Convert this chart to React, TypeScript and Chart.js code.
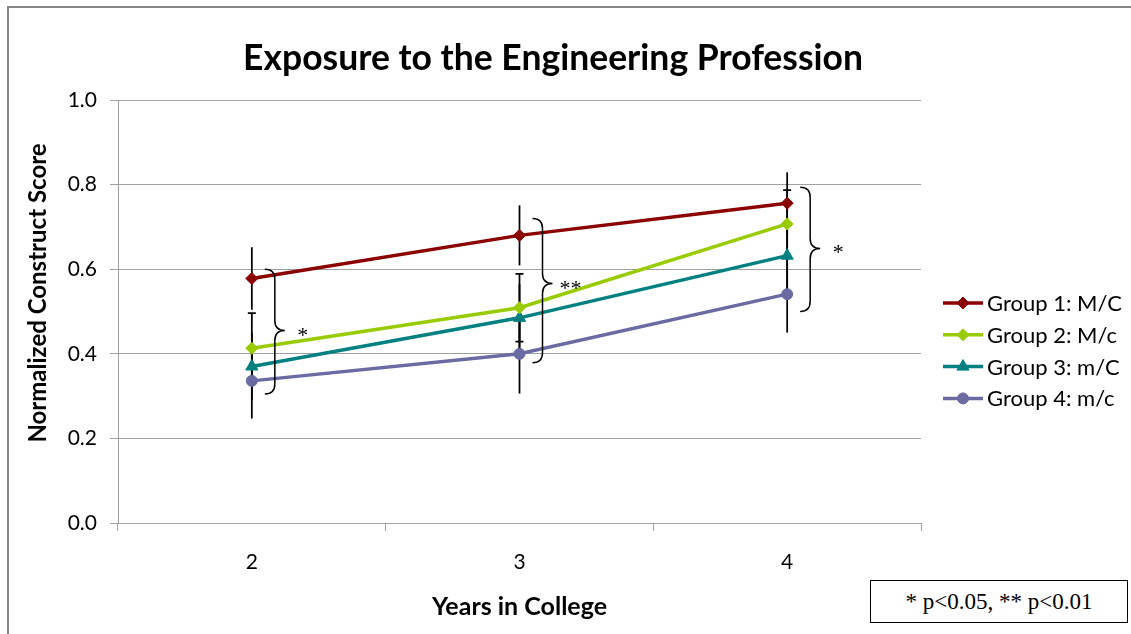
import React, { useEffect, useRef } from "react";
import { Chart, registerables } from "chart.js";
import { drawPoint } from "chart.js/helpers";

Chart.register(...registerables);

// Years in college (x categories)
const years = ["2", "3", "4"];

// Mean normalized construct scores per group
const seriesNames = ["Group 1: M/C", "Group 2: M/c", "Group 3: m/C", "Group 4: m/c"];
const group1 = [0.578, 0.68, 0.756];
const group2 = [0.413, 0.509, 0.707];
const group3 = [0.37, 0.485, 0.632];
const group4 = [0.336, 0.4, 0.541];

// Error bar half-widths per group
const group1Err = [0.074, 0.071, 0.073];
const group2Err = [0.083, 0.08, 0.08];
const group3Err = [0.08, 0.08, 0.08];
const group4Err = [0.089, 0.094, 0.091];

// Y axis tick values
const yTicks = [0, 0.2, 0.4, 0.6, 0.8, 1.0];

// Significance brackets for each year: span and tip (score units) and marker
const bracketTop = [0.6, 0.72, 0.794];
const bracketBottom = [0.305, 0.379, 0.5];
const bracketTip = [0.455, 0.566, 0.649];
const bracketMarks = ["*", "**", "*"];

const TITLE = "Exposure to the Engineering Profession";
const Y_TITLE = "Normalized Construct Score";
const X_TITLE = "Years in College";
const NOTE = "* p<0.05, ** p<0.01";

const FONT = "Lato, 'Open Sans', sans-serif";
const SERIF = "'Liberation Serif', 'Times New Roman', serif";
const GRID = "#a0a0a0";

const errorBarsPlugin = {
  id: "errorBars",
  beforeDatasetsDraw(chart: any) {
    const { ctx, scales } = chart;
    const xs = scales.x;
    const ys = scales.y;
    ctx.save();
    ctx.strokeStyle = "#000";
    ctx.lineWidth = 1.75;
    chart.data.datasets.forEach((ds: any) => {
      ds.errors.forEach((e: number, j: number) => {
        const v = ds.data[j];
        const px = xs.getPixelForValue(j);
        const top = ys.getPixelForValue(v + e);
        const bot = ys.getPixelForValue(v - e);
        ctx.beginPath();
        ctx.moveTo(px, top);
        ctx.lineTo(px, bot);
        if (ds.capped) {
          ctx.moveTo(px - 4, top);
          ctx.lineTo(px + 4, top);
          ctx.moveTo(px - 4, bot);
          ctx.lineTo(px + 4, bot);
        }
        ctx.stroke();
      });
    });
    ctx.restore();
  },
};

const annotationsPlugin = {
  id: "annotations",
  afterDatasetsDraw(chart: any) {
    const { ctx, scales } = chart;
    const xs = scales.x;
    const ys = scales.y;
    ctx.save();
    ctx.strokeStyle = "#000";
    ctx.lineWidth = 1.5;
    years.forEach((_, j) => {
      const px = xs.getPixelForValue(j);
      const x0 = px + 13;
      const xm = x0 + 10;
      const xt = xm + 10;
      const yT = ys.getPixelForValue(bracketTop[j]);
      const yB = ys.getPixelForValue(bracketBottom[j]);
      const yM = ys.getPixelForValue(bracketTip[j]);
      const r = 10;
      ctx.beginPath();
      ctx.moveTo(x0, yT);
      ctx.quadraticCurveTo(xm, yT, xm, yT + r);
      ctx.lineTo(xm, yM - r);
      ctx.quadraticCurveTo(xm, yM, xt, yM);
      ctx.quadraticCurveTo(xm, yM, xm, yM + r);
      ctx.lineTo(xm, yB - r);
      ctx.quadraticCurveTo(xm, yB, x0, yB);
      ctx.stroke();

      ctx.fillStyle = "#000";
      ctx.font = `22px ${SERIF}`;
      ctx.textAlign = "center";
      ctx.textBaseline = "alphabetic";
      ctx.fillText(bracketMarks[j], xt + 18, yM + 11);
    });
    ctx.restore();
  },
  afterDraw(chart: any) {
    const { ctx, chartArea } = chart;
    ctx.save();
    // Chart title
    ctx.fillStyle = "#000";
    ctx.font = `bold 35.5px ${FONT}`;
    ctx.textAlign = "center";
    ctx.textBaseline = "alphabetic";
    ctx.fillText(TITLE, 553, 70);

    // Vertical axis title
    ctx.save();
    ctx.translate(46, 293);
    ctx.rotate(-Math.PI / 2);
    ctx.font = `bold 24px ${FONT}`;
    ctx.textAlign = "center";
    ctx.fillText(Y_TITLE, 0, 0);
    ctx.restore();

    // Legend: line with marker, then the label
    const lx = chartArea.right + 22;
    const ly = 303;
    const gap = 31.8;
    chart.data.datasets.forEach((ds: any, i: number) => {
      const y = ly + i * gap;
      ctx.strokeStyle = ds.borderColor;
      ctx.fillStyle = ds.backgroundColor;
      ctx.lineWidth = 3.5;
      ctx.beginPath();
      ctx.moveTo(lx, y);
      ctx.lineTo(lx + 40, y);
      ctx.stroke();
      ctx.lineWidth = 1;
      drawPoint(ctx, { pointStyle: ds.pointStyle, radius: ds.pointRadius, borderWidth: 1, rotation: 0 }, lx + 20, y);
      ctx.fillStyle = "#000";
      ctx.font = `22px ${FONT}`;
      ctx.textAlign = "left";
      ctx.textBaseline = "middle";
      ctx.fillText(ds.label, lx + 44, y + 1);
    });
    ctx.restore();
  },
};

export default function App() {
  const canvasRef = useRef<HTMLCanvasElement | null>(null);

  useEffect(() => {
    const canvas = canvasRef.current;
    if (!canvas) return;

    const mk = (i: number, data: number[], errors: number[], color: string, pointStyle: string, radius: number, capped: boolean) => ({
      label: seriesNames[i],
      data,
      errors,
      capped,
      borderColor: color,
      backgroundColor: color,
      pointBackgroundColor: color,
      pointBorderColor: color,
      pointStyle,
      pointRadius: radius,
      pointBorderWidth: 1,
      borderWidth: 3.5,
      tension: 0,
      fill: false,
    });

    const chart = new Chart(canvas, {
      type: "line",
      data: {
        labels: years,
        datasets: [
          mk(0, group1, group1Err, "#8b0000", "rectRot", 6, false),
          mk(1, group2, group2Err, "#99cc00", "rectRot", 6, true),
          mk(2, group3, group3Err, "#008080", "triangle", 7, false),
          mk(3, group4, group4Err, "#6b6ba3", "circle", 5.5, false),
        ] as any,
      },
      options: {
        animation: false,
        responsive: false,
        maintainAspectRatio: false,
        devicePixelRatio: 1,
        layout: { padding: { left: 8, right: 210, top: 100, bottom: 0 } },
        plugins: {
          legend: { display: false },
          title: { display: false },
          tooltip: { enabled: false },
        },
        scales: {
          x: {
            type: "category",
            offset: true,
            grid: { offset: true, drawOnChartArea: false, drawTicks: true, tickLength: 8, color: GRID, lineWidth: 1 },
            border: { color: GRID, width: 1 },
            ticks: { color: "#000", font: { family: FONT, size: 21 }, padding: 19 },
            title: {
              display: true,
              text: X_TITLE,
              color: "#000",
              font: { family: FONT, size: 25, weight: "bold" },
              padding: { top: 0, bottom: 12 },
            },
            afterFit: (s: any) => {
              s.height = 111;
            },
          },
          y: {
            min: 0,
            max: 1,
            afterBuildTicks: (s: any) => {
              s.ticks = yTicks.map((v) => ({ value: v }));
            },
            grid: { color: GRID, lineWidth: 1, tickLength: 8 },
            border: { color: GRID, width: 1 },
            ticks: {
              color: "#000",
              font: { family: FONT, size: 21 },
              padding: 13,
              callback: (v: any) => Number(v).toFixed(1),
            },
            afterFit: (s: any) => {
              s.width = 110;
            },
          },
        },
      } as any,
      plugins: [errorBarsPlugin, annotationsPlugin],
    });

    return () => chart.destroy();
  }, []);

  return (
    <div style={{ position: "absolute", left: 0, top: 0, width: 1131, height: 634, overflow: "hidden", background: "#fff" }}>
      <div
        style={{
          position: "absolute",
          left: 7,
          top: 6,
          width: 1200,
          height: 700,
          borderTop: "2px solid #878787",
          borderLeft: "2px solid #878787",
        }}
      />
      <canvas ref={canvasRef} width={1131} height={634} style={{ position: "absolute", left: 0, top: 0 }} />
      <div
        style={{
          position: "absolute",
          left: 870,
          top: 580,
          width: 258,
          height: 43,
          boxSizing: "border-box",
          border: "1px solid #000",
          background: "#fff",
          fontFamily: SERIF,
          fontSize: 23,
          display: "flex",
          alignItems: "center",
          justifyContent: "center",
          color: "#000",
        }}
      >
        {NOTE}
      </div>
    </div>
  );
}
